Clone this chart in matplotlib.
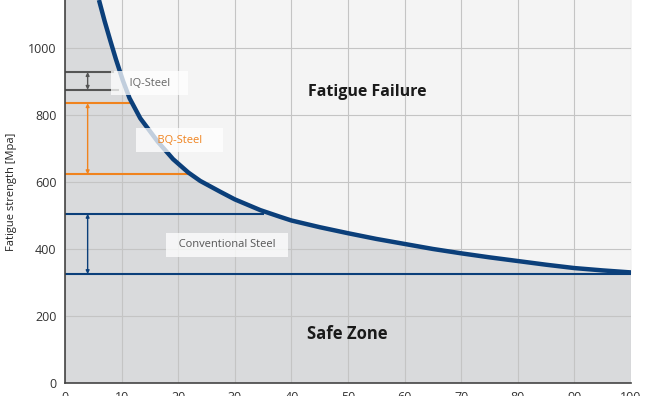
import matplotlib.pyplot as plt

# S-N style curve
curve_x = [6.0, 7.0, 8.0, 9.0, 10.2, 11.4, 13.3, 16.4, 19.1, 21.8, 23.9, 27.4, 30,
           34.5, 38, 40, 45, 50, 55, 60, 65, 70, 75, 80, 85, 90, 95, 100]
curve_y = [1143, 1080, 1022, 966, 904, 850, 790, 720, 668, 628, 603, 571, 548,
           516, 496, 485, 465, 447, 430, 415, 400, 387, 375, 364, 353, 343, 336, 330]

# steel grades
grades = ['IQ-Steel', 'BQ-Steel', 'Conventional Steel']
upper = [928, 835, 505]
lower = [875, 623, 325]
upper_end = [8.5, 11.5, 35]
lower_end = [9.4, 22.2, 100]
colors = ['#555555', '#f0831e', '#0b3f7a']
label_x = [15, 20.3, 28.6]
label_y = [895, 725, 412]
label_pad = ['    ', '     ', '  ']
label_colors = ['#666666', '#f0831e', '#555555']

y_ticks = [0, 200, 400, 600, 800, 1000]
x_ticks = [0, 10, 20, 30, 40, 50, 60, 70, 80, 90, 100]

plt.rcParams['font.family'] = ['Open Sans', 'DejaVu Sans']

fig = plt.figure(figsize=(6.6, 3.96), dpi=100)
ax = fig.add_axes([65 / 660, 13 / 396, 566 / 660, 383 / 396])
ax.set_xlim(0, 100)
ax.set_ylim(0, 1143)
ax.set_facecolor('#d9dadc')

# light area above the curve
ax.fill_between(curve_x, curve_y, 1143, color='#f4f4f4', zorder=0)

ax.set_xticks(x_ticks)
ax.set_yticks(y_ticks)
ax.grid(True, color='#c4c4c4', linewidth=0.8)
ax.set_axisbelow(True)
for s in ['top', 'right']:
    ax.spines[s].set_visible(False)
for s in ['left', 'bottom']:
    ax.spines[s].set_color('#444444')
    ax.spines[s].set_linewidth(1.2)
ax.tick_params(length=0, colors='#333333', labelsize=9, pad=6)
ax.set_ylabel('Fatigue strength [Mpa]', fontsize=8, color='#222222', labelpad=8)

for i in range(len(grades)):
    ax.plot([0, upper_end[i]], [upper[i], upper[i]], color=colors[i], lw=1.5, zorder=2)
    ax.plot([0, lower_end[i]], [lower[i], lower[i]], color=colors[i], lw=1.5, zorder=2)
    ax.annotate('', xy=(4, upper[i]), xytext=(4, lower[i]),
                arrowprops=dict(arrowstyle='<|-|>', color=colors[i], lw=1,
                                mutation_scale=5, shrinkA=0, shrinkB=0), zorder=3)

ax.plot(curve_x, curve_y, color='#0b3f7a', lw=3.2, solid_capstyle='butt',
        solid_joinstyle='round', zorder=4)

for i in range(len(grades)):
    ax.text(label_x[i], label_y[i], label_pad[i] + grades[i] + label_pad[i],
            color=label_colors[i], fontsize=8, ha='center', va='center', zorder=5,
            bbox=dict(boxstyle='square,pad=0.6', fc='white', ec='none', alpha=0.75))

ax.text(53.5, 868, 'Fatigue Failure', fontsize=11.5, fontweight='bold',
        color='#1a1a1a', ha='center', va='center', zorder=5)
ax.text(49.8, 147, 'Safe Zone', fontsize=12, fontweight='bold',
        color='#1a1a1a', ha='center', va='center', zorder=5)

fig.savefig('out.png', dpi=100)
